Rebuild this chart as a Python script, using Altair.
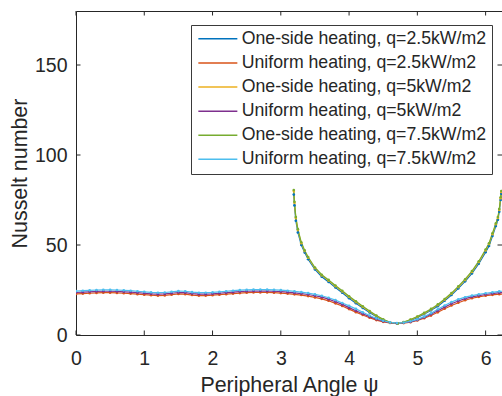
import altair as alt
import pandas as pd

names = [
    "One-side heating, q=2.5kW/m2",
    "Uniform heating, q=2.5kW/m2",
    "One-side heating, q=5kW/m2",
    "Uniform heating, q=5kW/m2",
    "One-side heating, q=7.5kW/m2",
    "Uniform heating, q=7.5kW/m2",
]
colors = ["#0072BD", "#D95319", "#EDB120", "#7E2F8E", "#77AC30", "#4DBEEE"]

x_ticks = [0, 1, 2, 3, 4, 5, 6]
y_ticks = [0, 50, 100, 150]

# uniform heating: full circumference
angles_u = [0.0, 0.1, 0.2, 0.3, 0.4, 0.5, 0.6, 0.7, 0.8, 0.9,
            1.0, 1.1, 1.2, 1.3, 1.4, 1.5, 1.6, 1.7, 1.8, 1.9,
            2.0, 2.1, 2.2, 2.3, 2.4, 2.5, 2.6, 2.7, 2.8, 2.9,
            3.0, 3.1, 3.2, 3.3, 3.4, 3.5, 3.6, 3.7, 3.8, 3.9,
            4.0, 4.1, 4.2, 4.3, 4.4, 4.5, 4.6, 4.7, 4.8, 4.9,
            5.0, 5.1, 5.2, 5.3, 5.4, 5.5, 5.6, 5.7, 5.8, 5.9,
            6.0, 6.1, 6.2, 6.28]
u25 = [22.8, 23.0, 23.2, 23.4, 23.5, 23.5, 23.4, 23.2, 23.0, 22.7,
       22.4, 22.1, 21.9, 22.0, 22.4, 22.8, 22.7, 22.2, 21.9, 21.9,
       22.1, 22.4, 22.7, 23.0, 23.3, 23.5, 23.6, 23.6, 23.6, 23.5,
       23.3, 23.0, 22.6, 22.2, 21.6, 20.9, 20.1, 19.0, 17.6, 16.1,
       14.4, 12.7, 11.1, 9.6, 8.3, 7.3, 6.7, 6.4, 6.6, 7.1,
       8.1, 9.3, 10.8, 12.6, 14.6, 16.4, 17.9, 19.3, 20.4, 21.2,
       21.8, 22.3, 22.7, 22.8]
u5 = [23.6, 23.8, 24.0, 24.2, 24.3, 24.3, 24.2, 24.0, 23.8, 23.5,
      23.2, 22.9, 22.7, 22.8, 23.2, 23.6, 23.5, 23.0, 22.7, 22.7,
      22.9, 23.2, 23.5, 23.8, 24.1, 24.3, 24.4, 24.4, 24.4, 24.3,
      24.1, 23.8, 23.4, 23.0, 22.5, 21.8, 21.0, 19.9, 18.5, 17.0,
      15.2, 13.5, 11.8, 10.2, 8.8, 7.7, 6.9, 6.5, 6.8, 7.3,
      8.4, 9.8, 11.5, 13.5, 15.5, 17.4, 18.9, 20.2, 21.2, 21.9,
      22.5, 23.0, 23.5, 23.6]
u75 = [24.4, 24.6, 24.8, 25.0, 25.1, 25.1, 25.0, 24.8, 24.6, 24.3,
       24.0, 23.7, 23.5, 23.6, 24.0, 24.4, 24.3, 23.8, 23.5, 23.5,
       23.7, 24.0, 24.3, 24.6, 24.9, 25.1, 25.2, 25.2, 25.2, 25.1,
       24.9, 24.6, 24.2, 23.8, 23.3, 22.6, 21.8, 20.7, 19.4, 17.8,
       16.2, 14.5, 12.6, 10.8, 9.2, 7.9, 7.0, 6.6, 6.9, 7.6,
       8.7, 10.2, 12.1, 14.3, 16.4, 18.3, 19.8, 21.0, 21.9, 22.6,
       23.2, 23.7, 24.2, 24.4]

# one-side heating: heated half only
angles_os = [3.19, 3.20, 3.22, 3.25, 3.30, 3.35, 3.40, 3.50, 3.60, 3.70,
             3.80, 3.90, 4.00, 4.10, 4.20, 4.30, 4.40, 4.50, 4.60, 4.71,
             4.80, 4.90, 5.00, 5.10, 5.20, 5.30, 5.40, 5.50, 5.60, 5.70,
             5.80, 5.90, 6.00, 6.05, 6.10, 6.15, 6.18, 6.20, 6.22, 6.23]
os25 = [78.0, 72.0, 63.5, 57.0, 50.0, 45.8, 42.1, 36.4, 32.4, 29.5,
        26.4, 23.5, 20.4, 17.7, 15.0, 12.5, 10.1, 8.2, 6.9, 6.3,
        6.9, 8.1, 9.7, 11.6, 13.7, 16.0, 19.0, 22.2, 25.9, 29.8,
        34.2, 39.6, 46.0, 49.5, 55.0, 60.5, 64.0, 68.5, 75.0, 78.5]
os5 = [80.0, 73.5, 65.0, 58.3, 51.0, 46.6, 42.9, 37.1, 33.1, 30.2,
       27.1, 24.2, 21.1, 18.3, 15.6, 13.0, 10.5, 8.5, 7.0, 6.4,
       7.1, 8.4, 10.1, 12.0, 14.2, 16.6, 19.6, 22.9, 26.6, 30.5,
       35.0, 40.5, 47.0, 50.5, 56.0, 61.5, 65.0, 69.5, 76.0, 79.5]
os75 = [80.5, 74.0, 65.5, 58.8, 51.5, 47.0, 43.3, 37.5, 33.5, 30.6,
        27.5, 24.6, 21.5, 18.7, 16.0, 13.3, 10.8, 8.7, 7.1, 6.4,
        7.2, 8.6, 10.3, 12.3, 14.5, 17.0, 20.0, 23.3, 27.0, 31.0,
        35.5, 41.0, 47.5, 51.0, 56.5, 62.0, 65.5, 70.0, 76.5, 80.0]

series = [
    (names[0], angles_os, os25),
    (names[1], angles_u, u25),
    (names[2], angles_os, os5),
    (names[3], angles_u, u5),
    (names[4], angles_os, os75),
    (names[5], angles_u, u75),
]
rows = []
for name, xs, ys in series:
    for a, v in zip(xs, ys):
        rows.append({"series": name, "angle": a, "nu": v})
df = pd.DataFrame(rows)

FONT = "Liberation Sans"
INK = "#262626"
W, H = 426, 324

xscale = alt.Scale(domain=[0, 6.24], nice=False, zero=False)
yscale = alt.Scale(domain=[0, 180], nice=False, zero=False)

color = alt.Color(
    "series:N",
    sort=names,
    scale=alt.Scale(domain=names, range=colors),
    legend=alt.Legend(
        orient="none", legendX=115, legendY=14, title=None,
        symbolType="M-1,0H5", symbolSize=169, symbolStrokeWidth=1.5,
        symbolOpacity=1,
        labelFont=FONT, labelFontSize=17.7, labelColor=INK,
        labelOffset=28, labelLimit=400,
        padding=5, rowPadding=5.1,
        fillColor="white", strokeColor="#3a3a3a",
    ),
)

x_axis = alt.Axis(
    values=x_ticks, domain=False, ticks=False, tickSize=0, grid=False,
    labelFont=FONT, labelFontSize=19.5, labelColor=INK, labelPadding=14.5,
    labelFlush=False, labelOverlap=False,
    title="Peripheral Angle ψ", titleFont=FONT, titleFontSize=21.4,
    titleFontWeight="normal", titleColor=INK,
    titleBaseline="alphabetic", titleY=56,
)
y_axis = alt.Axis(
    values=y_ticks, domain=False, ticks=False, tickSize=0, grid=False,
    labelFont=FONT, labelFontSize=19.5, labelColor=INK, labelPadding=9,
    labelFlush=False, labelOverlap=False,
    title="Nusselt number", titleFont=FONT, titleFontSize=21.4,
    titleFontWeight="normal", titleColor=INK,
    titleBaseline="alphabetic", titleX=-49.5,
)
x_enc = alt.X("angle:Q", scale=xscale, axis=x_axis)
y_enc = alt.Y("nu:Q", scale=yscale, axis=y_axis)

lines = alt.Chart(df).mark_line(strokeWidth=1.2, clip=True).encode(
    x=x_enc, y=y_enc, color=color
)
dots = alt.Chart(df).mark_circle(size=7, opacity=1, clip=True).encode(
    x=x_enc, y=y_enc, color=color
)

xt = pd.DataFrame({"angle": x_ticks})
yt = pd.DataFrame({"nu": y_ticks})
tick_style = dict(color=INK, strokeWidth=1)
bottom_ticks = alt.Chart(xt).mark_rule(**tick_style).encode(
    x=x_enc, y=alt.value(H), y2=alt.value(H - 4.5)
)
top_ticks = alt.Chart(xt).mark_rule(**tick_style).encode(
    x=x_enc, y=alt.value(0), y2=alt.value(4.5)
)
left_ticks = alt.Chart(yt).mark_rule(**tick_style).encode(
    y=y_enc, x=alt.value(0), x2=alt.value(4.5)
)
right_ticks = alt.Chart(yt).mark_rule(**tick_style).encode(
    y=y_enc, x=alt.value(W), x2=alt.value(W - 4.5)
)

chart = alt.layer(
    lines, dots, bottom_ticks, top_ticks, left_ticks, right_ticks
).properties(
    width=W, height=H,
    autosize=alt.AutoSizeParams(type="none"),
    padding={"left": 76, "top": 11, "right": 0, "bottom": 61},
    background="white",
).configure_view(stroke=INK, strokeWidth=1)

chart.save("out.html", embed_options={"renderer": "svg", "actions": False})
